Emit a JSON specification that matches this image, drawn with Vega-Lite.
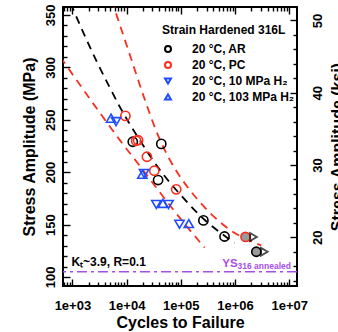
{
  "$schema": "https://vega.github.io/schema/vega-lite/v6.json",
  "width": 234,
  "height": 279,
  "autosize": {"type": "none"},
  "padding": {"left": 63, "top": 7, "right": 41, "bottom": 46},
  "background": "white",
  "config": {
    "font": "Liberation Sans",
    "view": {"stroke": "black", "strokeWidth": 2},
    "axis": {"grid": false, "domain": false, "tickColor": "black", "tickWidth": 1.4, "labelColor": "black", "titleColor": "black", "labelFont": "Liberation Sans", "titleFont": "Liberation Sans", "labelFontWeight": "bold", "titleFontWeight": "bold", "labelFontSize": 13, "titleFontSize": 16, "labelOverlap": false, "labelFlush": false}
  },
  "datasets": {
    "pts": [
      {"cond": "20 °C, AR", "N": 13000, "S": 229},
      {"cond": "20 °C, AR", "N": 43600, "S": 227},
      {"cond": "20 °C, AR", "N": 38100, "S": 192.5},
      {"cond": "20 °C, AR", "N": 261000, "S": 154},
      {"cond": "20 °C, AR", "N": 640000, "S": 138.6},
      {"cond": "20 °C, PC", "N": 9500, "S": 253.7},
      {"cond": "20 °C, PC", "N": 15000, "S": 230},
      {"cond": "20 °C, PC", "N": 16300, "S": 230.5},
      {"cond": "20 °C, PC", "N": 23700, "S": 214.7},
      {"cond": "20 °C, PC", "N": 32400, "S": 201.4},
      {"cond": "20 °C, PC", "N": 82200, "S": 183.6},
      {"cond": "20 °C, 10 MPa H₂", "N": 6380, "S": 248.2},
      {"cond": "20 °C, 10 MPa H₂", "N": 21000, "S": 198.7},
      {"cond": "20 °C, 10 MPa H₂", "N": 35300, "S": 169.2},
      {"cond": "20 °C, 10 MPa H₂", "N": 59400, "S": 169.2},
      {"cond": "20 °C, 10 MPa H₂", "N": 94600, "S": 150.3},
      {"cond": "20 °C, 103 MPa H₂", "N": 5160, "S": 251.5},
      {"cond": "20 °C, 103 MPa H₂", "N": 19500, "S": 198},
      {"cond": "20 °C, 103 MPa H₂", "N": 46700, "S": 170.2},
      {"cond": "20 °C, 103 MPa H₂", "N": 140300, "S": 151}
    ],
    "runout": [
      {"cond": "AR", "N": 2470000, "S": 124.1},
      {"cond": "PC", "N": 1560000, "S": 138.2}
    ],
    "curves": [
      {"fit": "AR", "N": 930, "S": 361.2},
      {"fit": "AR", "N": 1013, "S": 356.6},
      {"fit": "AR", "N": 1685, "S": 330.3},
      {"fit": "AR", "N": 2805, "S": 305.7},
      {"fit": "AR", "N": 4669, "S": 282.8},
      {"fit": "AR", "N": 7769, "S": 260.9},
      {"fit": "AR", "N": 15985, "S": 233.7},
      {"fit": "AR", "N": 37360, "S": 205.1},
      {"fit": "AR", "N": 102140, "S": 177.5},
      {"fit": "AR", "N": 274100, "S": 154.6},
      {"fit": "AR", "N": 640500, "S": 139.3},
      {"fit": "AR", "N": 979100, "S": 132.6},
      {"fit": "PC low", "N": 600, "S": 309.9},
      {"fit": "PC low", "N": 3186, "S": 256.9},
      {"fit": "PC low", "N": 7446, "S": 230.8},
      {"fit": "PC low", "N": 17400, "S": 206.2},
      {"fit": "PC low", "N": 40500, "S": 181.2},
      {"fit": "PC low", "N": 95040, "S": 156.6},
      {"fit": "PC low", "N": 274700, "S": 128.0},
      {"fit": "PC high", "N": 5301, "S": 364.3},
      {"fit": "PC high", "N": 5945, "S": 356.4},
      {"fit": "PC high", "N": 11380, "S": 312.6},
      {"fit": "PC high", "N": 21510, "S": 269.7},
      {"fit": "PC high", "N": 37360, "S": 236.1},
      {"fit": "PC high", "N": 62160, "S": 212.1},
      {"fit": "PC high", "N": 109300, "S": 191.8},
      {"fit": "PC high", "N": 179700, "S": 177.3},
      {"fit": "PC high", "N": 339500, "S": 161.5},
      {"fit": "PC high", "N": 793400, "S": 145.3},
      {"fit": "PC high", "N": 3048000, "S": 130.1}
    ],
    "ys": [{"S": 105}],
    "notes": [
      {"id": "kt", "label": "Kₜ~3.9, R=0.1", "N": 960, "S": 110.5},
      {"id": "ys", "label": "YS", "N": 582000, "S": 109.3},
      {"id": "sub", "label": "316 annealed", "N": 1114000, "S": 107.2}
    ]
  },
  "layer": [
    {
      "data": {"name": "ys"},
      "mark": {"type": "rule", "color": "#a64ee8", "strokeWidth": 1.6, "strokeDash": [10, 4, 3, 4]},
      "encoding": {
        "y": {"field": "S", "type": "quantitative", "scale": {"domain": [91.4, 357.6], "nice": false, "zero": false}, "axis": null}
      }
    },
    {
      "data": {"name": "curves"},
      "transform": [{"filter": "datum.fit == 'AR'"}],
      "mark": {"type": "line", "color": "black", "strokeWidth": 1.8, "strokeDash": [8, 6], "interpolate": "monotone", "clip": true},
      "encoding": {
        "x": {"field": "N", "type": "quantitative", "scale": {"type": "log", "domain": [671, 13900000], "nice": false}, "axis": null},
        "y": {"field": "S", "type": "quantitative", "axis": null}
      }
    },
    {
      "data": {"name": "curves"},
      "transform": [{"filter": "datum.fit != 'AR'"}],
      "mark": {"type": "line", "color": "#f5301e", "strokeWidth": 1.8, "strokeDash": [8, 6], "interpolate": "monotone", "clip": true},
      "encoding": {
        "detail": {"field": "fit"},
        "x": {"field": "N", "type": "quantitative", "axis": null},
        "y": {"field": "S", "type": "quantitative", "axis": null}
      }
    },
    {
      "data": {"name": "pts"},
      "mark": {"type": "point", "filled": false, "size": 85, "strokeWidth": 1.6, "opacity": 1},
      "encoding": {
        "x": {"field": "N", "type": "quantitative",
          "axis": {"orient": "bottom", "title": "Cycles to Failure",
            "values": [700, 800, 900, 1000, 2000, 3000, 4000, 5000, 6000, 7000, 8000, 9000, 10000, 20000, 30000, 40000, 50000, 60000, 70000, 80000, 90000, 100000, 200000, 300000, 400000, 500000, 600000, 700000, 800000, 900000, 1000000, 2000000, 3000000, 4000000, 5000000, 6000000, 7000000, 8000000, 9000000, 10000000],
            "labelExpr": "abs(log(datum.value)/LN10 - round(log(datum.value)/LN10)) < 0.001 ? '1e+0' + round(log(datum.value)/LN10) : ''",
            "tickSize": {"condition": {"test": "abs(log(datum.value)/LN10 - round(log(datum.value)/LN10)) < 0.001", "value": -7}, "value": -4},
            "labelPadding": 20, "titlePadding": -1}},
        "y": {"field": "S", "type": "quantitative",
          "axis": {"orient": "left", "title": "Stress Amplitude (MPa)",
            "values": [100, 110, 120, 130, 140, 150, 160, 170, 180, 190, 200, 210, 220, 230, 240, 250, 260, 270, 280, 290, 300, 310, 320, 330, 340, 350],
            "labelExpr": "datum.value % 50 == 0 ? datum.value : ''",
            "tickSize": {"condition": {"test": "datum.value % 50 == 0", "value": -7}, "value": -4},
            "labelAngle": 270, "labelPadding": 13, "titlePadding": 4}},
        "color": {"field": "cond", "type": "nominal",
          "scale": {"domain": ["20 °C, AR", "20 °C, PC", "20 °C, 10 MPa H₂", "20 °C, 103 MPa H₂"], "range": ["#000000", "#f5301e", "#1f4cff", "#1f4cff"]},
          "legend": {"title": "Strain Hardened 316L", "orient": "none", "legendX": 99, "legendY": 18, "titleFontSize": 12, "titleFontWeight": "bold", "titleColor": "black", "labelFontSize": 12, "labelFontWeight": "bold", "labelColor": "black", "symbolSize": 36, "symbolStrokeWidth": 2, "labelOffset": 18, "rowPadding": 2, "titlePadding": 6, "symbolFillColor": "transparent"}},
        "shape": {"field": "cond", "type": "nominal",
          "scale": {"domain": ["20 °C, AR", "20 °C, PC", "20 °C, 10 MPa H₂", "20 °C, 103 MPa H₂"], "range": ["circle", "circle", "triangle-down", "triangle-up"]},
          "legend": null}
      }
    },
    {
      "data": {"name": "runout"},
      "mark": {"type": "point", "shape": "circle", "filled": true, "fill": "#9a9a9a", "fillOpacity": 1, "size": 85, "strokeWidth": 1.6},
      "encoding": {
        "x": {"field": "N", "type": "quantitative", "axis": null},
        "y": {"field": "S", "type": "quantitative", "axis": null},
        "stroke": {"field": "cond", "type": "nominal", "scale": {"domain": ["AR", "PC"], "range": ["#000000", "#f5301e"]}, "legend": null}
      }
    },
    {
      "data": {"name": "runout"},
      "mark": {"type": "point", "shape": "triangle-right", "filled": false, "stroke": "black", "strokeWidth": 1.8, "size": 60, "xOffset": 8},
      "encoding": {
        "x": {"field": "N", "type": "quantitative",
          "axis": {"orient": "top", "title": null, "labels": false,
            "values": [700, 800, 900, 1000, 2000, 3000, 4000, 5000, 6000, 7000, 8000, 9000, 10000, 20000, 30000, 40000, 50000, 60000, 70000, 80000, 90000, 100000, 200000, 300000, 400000, 500000, 600000, 700000, 800000, 900000, 1000000, 2000000, 3000000, 4000000, 5000000, 6000000, 7000000, 8000000, 9000000, 10000000],
            "tickSize": {"condition": {"test": "abs(log(datum.value)/LN10 - round(log(datum.value)/LN10)) < 0.001", "value": -7}, "value": -4}}},
        "y": {"field": "S", "type": "quantitative",
          "axis": {"orient": "right", "title": "Stress Amplitude (ksi)", "titleAngle": 270,
            "values": [96.5266, 110.3161, 124.1056, 137.8951, 151.6847, 165.4742, 179.2637, 193.0532, 206.8427, 220.6322, 234.4217, 248.2113, 262.0008, 275.7903, 289.5798, 303.3693, 317.1588, 330.9483, 344.7379],
            "labelExpr": "abs(datum.value/68.94757 - round(datum.value/68.94757)) < 0.001 ? '' + round(datum.value/6.894757) : ''",
            "tickSize": {"condition": {"test": "abs(datum.value/68.94757 - round(datum.value/68.94757)) < 0.001", "value": -7}, "value": -4},
            "labelAngle": 270, "labelPadding": 21, "titlePadding": 18}}
      }
    },
    {
      "data": {"name": "notes"},
      "transform": [{"filter": "datum.id == 'kt'"}],
      "mark": {"type": "text", "align": "left", "baseline": "alphabetic", "fontSize": 12, "fontWeight": "bold", "color": "black"},
      "encoding": {
        "x": {"field": "N", "type": "quantitative", "axis": null},
        "y": {"field": "S", "type": "quantitative", "axis": null},
        "text": {"field": "label"}
      }
    },
    {
      "data": {"name": "notes"},
      "transform": [{"filter": "datum.id == 'ys'"}],
      "mark": {"type": "text", "align": "left", "baseline": "alphabetic", "fontSize": 11.5, "fontWeight": "bold", "color": "#a64ee8"},
      "encoding": {
        "x": {"field": "N", "type": "quantitative", "axis": null},
        "y": {"field": "S", "type": "quantitative", "axis": null},
        "text": {"field": "label"}
      }
    },
    {
      "data": {"name": "notes"},
      "transform": [{"filter": "datum.id == 'sub'"}],
      "mark": {"type": "text", "align": "left", "baseline": "alphabetic", "fontSize": 8.5, "fontWeight": "bold", "color": "#a64ee8"},
      "encoding": {
        "x": {"field": "N", "type": "quantitative", "axis": null},
        "y": {"field": "S", "type": "quantitative", "axis": null},
        "text": {"field": "label"}
      }
    }
  ],
  "resolve": {"axis": {"x": "independent", "y": "independent"}}
}
